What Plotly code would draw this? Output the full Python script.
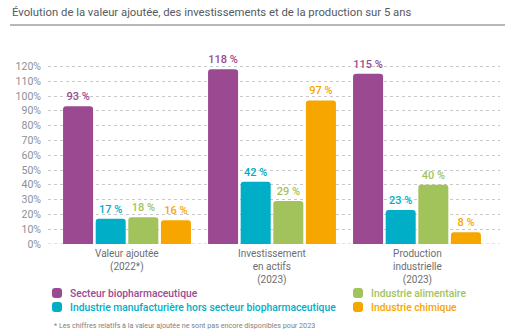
import plotly.graph_objects as go

categories = ["Valeur ajoutée<br>(2022*)", "Investissement<br>en actifs<br>(2023)", "Production<br>industrielle<br>(2023)"]
series_names = ["Secteur biopharmaceutique",
                "Industrie manufacturière hors secteur biopharmaceutique",
                "Industrie alimentaire",
                "Industrie chimique"]
bio = [93, 118, 115]
manuf = [17, 42, 23]
alim = [18, 29, 40]
chim = [16, 97, 8]
y_ticks = [0, 10, 20, 30, 40, 50, 60, 70, 80, 90, 100, 110, 120]
title = "Évolution de la valeur ajoutée, des investissements et de la production sur 5 ans"
footnote = "* Les chiffres relatifs à la valeur ajoutée ne sont pas encore disponibles pour 2023"

colors = ["#9b4a92", "#00aec7", "#a2c35c", "#f7a600"]
FONT = "Roboto, sans-serif"
W, H = 509, 334
L, R, T, B = 48, 9, 55, 90
PW, PH = W - L - R, H - T - B

def px(x):
    return (x - L) / PW

def py(y):
    return (H - B - y) / PH

fig = go.Figure()
xs = list(range(len(categories)))
for name, vals, c in zip(series_names, [bio, manuf, alim, chim], colors):
    fig.add_trace(go.Bar(
        x=xs, y=vals, name=name, marker=dict(color=c, line=dict(width=0)),
        text=[f"{v} %" for v in vals], textposition="outside",
        textfont=dict(color=c, size=11, family=FONT, weight=500), cliponaxis=False,
        showlegend=False))

span = PW / 145.0
start = -(127 - L) / 145.0
fig.update_layout(
    width=W, height=H, margin=dict(l=L, r=R, t=T, b=B),
    paper_bgcolor="white", plot_bgcolor="white",
    barmode="group", bargap=0.1, bargroupgap=0.08, barcornerradius=3,
    font=dict(family=FONT, color="#6d6e71"),
    xaxis=dict(range=[start, start + span], showticklabels=False, showgrid=False,
               zeroline=False, showline=False, fixedrange=True),
    yaxis=dict(range=[0, PH / 1.48], tickvals=y_ticks, ticktext=[f"{t}%" for t in y_ticks],
               tickfont=dict(size=10.5, color="#8b909a", family=FONT),
               showgrid=True, gridcolor="#c8c8c8", griddash="dot", gridwidth=1,
               zeroline=False, showline=False, ticks="", ticklabelstandoff=6),
)

shapes = []
shapes.append(dict(type="line", xref="paper", yref="y", x0=0, x1=1, y0=0, y1=0,
                   line=dict(color="#c8c8c8", width=1, dash="dot"), layer="below"))
shapes.append(dict(type="line", xref="paper", yref="paper", x0=px(10), x1=px(505),
                   y0=py(25), y1=py(25), line=dict(color="#a0a0a0", width=1.5)))

annotations = []
annotations.append(dict(text=title, xref="paper", yref="paper", x=px(10), y=py(12),
                        xanchor="left", yanchor="middle", showarrow=False,
                        font=dict(size=11.3, color="#555a60", family=FONT)))
for i, cat in enumerate(categories):
    annotations.append(dict(text=cat, xref="x", yref="paper", x=i, y=py(246),
                            xanchor="center", yanchor="top", showarrow=False,
                            font=dict(size=10, color="#6d6e71", family=FONT)))

legend_pos = [(57, 293), (57, 307), (358, 293), (358, 307)]
for (cx, cy), name, c in zip(legend_pos, series_names, colors):
    s = 5
    r = 3
    x0, x1, y0, y1 = px(cx - s), px(cx + s), py(cy + s), py(cy - s)
    rx, ry = r / PW, r / PH
    path = (f"M {x0+rx},{y0} L {x1-rx},{y0} Q {x1},{y0} {x1},{y0+ry} L {x1},{y1-ry} "
            f"Q {x1},{y1} {x1-rx},{y1} L {x0+rx},{y1} Q {x0},{y1} {x0},{y1-ry} "
            f"L {x0},{y0+ry} Q {x0},{y0} {x0+rx},{y0} Z")
    shapes.append(dict(type="path", xref="paper", yref="paper", path=path,
                       fillcolor=c, line=dict(width=0)))
    annotations.append(dict(text=name, xref="paper", yref="paper", x=px(cx + 11), y=py(cy),
                            xanchor="left", yanchor="middle", showarrow=False,
                            font=dict(size=10.3, color=c, family=FONT, weight=500)))

annotations.append(dict(text=footnote, xref="paper", yref="paper", x=px(52), y=py(325),
                        xanchor="left", yanchor="middle", showarrow=False,
                        font=dict(size=7.2, color="#808080", family=FONT)))

fig.update_layout(shapes=shapes, annotations=annotations)
fig.write_html("out.html")
